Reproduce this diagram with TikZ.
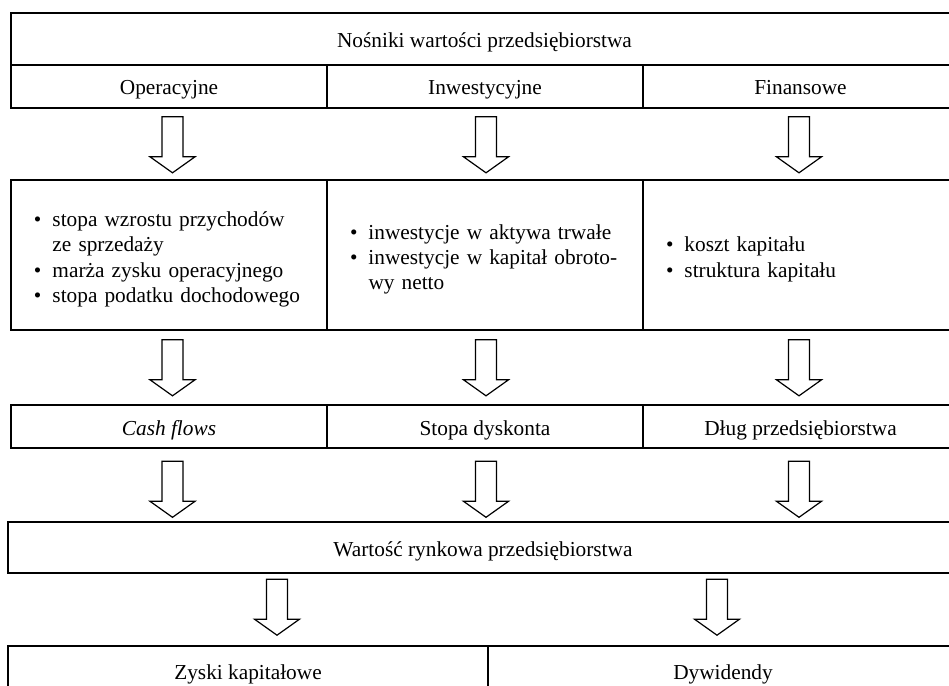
\documentclass[tikz,border=0pt]{standalone}
\usepackage{fontspec}
\setmainfont{Liberation Serif}
\usetikzlibrary{calc}
\newcommand\diagfont{\fontsize{21.4}{25.3}\selectfont}
\newcommand\dbul{\makebox[18.5bp][l]{\textbullet}}
\newcommand\lowered[1]{\raisebox{-4.5bp}[\height][\depth]{#1}}
\begin{document}
\begin{tikzpicture}[x=1bp,y=-1bp,
  box/.style={draw=black,line width=1.6bp,rectangle,inner sep=0pt,font=\diagfont,text height=17bp,text depth=0pt},
  listbox/.style={draw=black,line width=1.6bp,rectangle,inner xsep=23bp,inner ysep=0pt,font=\diagfont,align=left,minimum height=150bp},
  arrline/.style={draw=black,line width=1.2bp,fill=white,line join=miter},
  blockarrow/.pic={\draw[arrline] (-10.5,0) -- (-10.5,40) -- (-22.5,40) -- (0,56) -- (22.5,40) -- (10.5,40) -- (10.5,0) -- cycle;}
]
\useasboundingbox (0,0) rectangle (949,686);
\clip (0,0) rectangle (949,686);

% header
\node[box,minimum width=947bp,minimum height=52bp] (title) at (484.5,39) {Nośniki wartości przedsiębiorstwa};
\node[box,minimum width=316bp,minimum height=43bp] (op) at (169,86.5) {Operacyjne};
\node[box,minimum width=316bp,minimum height=43bp] (inw) at (485,86.5) {Inwestycyjne};
\node[box,minimum width=315bp,minimum height=43bp] (fin) at (800.5,86.5) {Finansowe};

% lists
\node[listbox,text width=270bp,minimum width=316bp] (l1) at (169,255) {%
\lowered{\begin{tabular}{@{}l@{}l@{}}
\dbul & stopa wzrostu przychodów\\
 & ze sprzedaży\\
\dbul & marża zysku operacyjnego\\
\dbul & stopa podatku dochodowego
\end{tabular}}};
\node[listbox,text width=270bp,minimum width=316bp] (l2) at (485,255) {%
\lowered{\begin{tabular}{@{}l@{}l@{}}
\dbul & inwestycje w aktywa trwałe\\
\dbul & inwestycje w kapitał obroto-\\
 & wy netto
\end{tabular}}};
\node[listbox,text width=269bp,minimum width=315bp] (l3) at (800.5,255) {%
\lowered{\begin{tabular}{@{}l@{}l@{}}
\dbul & koszt kapitału\\
\dbul & struktura kapitału
\end{tabular}}};

% results
\node[box,minimum width=316bp,minimum height=43bp] (cf) at (169,426.5) {\itshape Cash flows};
\node[box,minimum width=316bp,minimum height=43bp] (sd) at (485,426.5) {Stopa dyskonta};
\node[box,minimum width=315bp,minimum height=43bp] (dp) at (800.5,426.5) {Dług przedsiębiorstwa};

% market value
\node[box,minimum width=950bp,minimum height=51bp] (wr) at (483,547.5) {Wartość rynkowa przedsiębiorstwa};

% bottom
\node[box,minimum width=480bp,minimum height=50bp] (zk) at (248,671) {Zyski kapitałowe};
\node[box,minimum width=470bp,minimum height=50bp] (dy) at (723,671) {Dywidendy};

% block arrows
\pic at ($(op.south)+(3.5,8)$) {blockarrow};
\pic at ($(inw.south)+(1,8)$) {blockarrow};
\pic at ($(fin.south)+(-1.5,8)$) {blockarrow};
\pic at ($(l1.south)+(3.5,9)$) {blockarrow};
\pic at ($(l2.south)+(1,9)$) {blockarrow};
\pic at ($(l3.south)+(-1.5,9)$) {blockarrow};
\pic at ($(cf.south)+(3.5,12.5)$) {blockarrow};
\pic at ($(sd.south)+(1,12.5)$) {blockarrow};
\pic at ($(dp.south)+(-1.5,12.5)$) {blockarrow};
\pic at ($(zk.north)+(29,-66)$) {blockarrow};
\pic at ($(dy.north)+(-6,-66)$) {blockarrow};
\end{tikzpicture}
\end{document}
